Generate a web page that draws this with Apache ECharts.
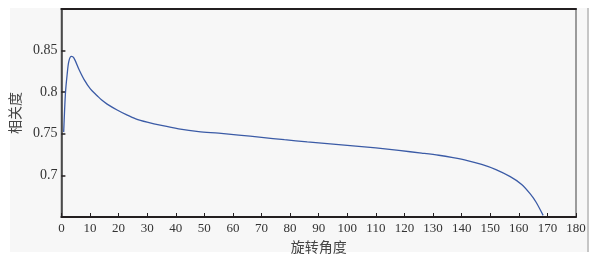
<!DOCTYPE html>
<html>
<head>
<meta charset="utf-8">
<script src="https://cdn.jsdelivr.net/npm/echarts@6/dist/echarts.min.js"></script>
<style>
    html, body {margin: 0; padding: 0; background: #fff;}
    #main {width: 610px; height: 259px;}
</style>
</head>
<body>
<div id="main"></div>
<script>
// 旋转角度 (deg)
const angles = [0.8, 1.4, 2.0, 2.6, 3.5, 4.4, 6.2, 7.9, 10.2, 12.5, 14, 16, 19.5, 22.7, 26, 30, 35, 41, 48,
    55, 62, 70, 78, 86, 94, 102, 110, 118, 126, 132, 137, 142, 147, 152, 157, 161, 164, 166, 168.5];
// 相关度
const corr = [0.752, 0.798, 0.821, 0.837, 0.843, 0.841, 0.827, 0.8155, 0.8036, 0.7958, 0.7908, 0.7857, 0.7786, 0.773, 0.768, 0.764, 0.760, 0.756, 0.7527,
    0.7508, 0.7485, 0.7457, 0.7429, 0.7403, 0.738, 0.7355, 0.733, 0.730, 0.7268, 0.7242, 0.7213, 0.7178, 0.7132, 0.7070, 0.6985, 0.6892, 0.6778, 0.668, 0.652];

const xTicks = {min: 0, max: 180, interval: 10};
const yTicks = {min: 0.65, max: 0.9, interval: 0.05};

const serif = '"Liberation Serif", "DejaVu Serif", serif';
const cjk = '"Noto Sans CJK SC", sans-serif';

let chart = echarts.init(document.getElementById('main'));

chart.setOption({
    backgroundColor: '#fff',
    animation: false,
    graphic: [
        {type: 'rect', z: -10, shape: {x: 10, y: 8, width: 577, height: 244}, style: {fill: '#f7f7f7'}},
        {type: 'line', z: -9, shape: {x1: 588, y1: 8, x2: 588, y2: 252}, style: {stroke: '#c6c6c6', lineWidth: 2}}
    ],
    grid: {
        left: 59, right: 34, top: 9, bottom: 42,
        show: true,
        backgroundColor: 'transparent',
        borderColor: '#7d7d7d',
        borderWidth: 1.5
    },
    xAxis: [{
        type: 'value',
        min: xTicks.min, max: xTicks.max, interval: xTicks.interval,
        name: '旋转角度',
        nameLocation: 'middle',
        nameGap: 19,
        nameTextStyle: {fontFamily: cjk, fontSize: 14, color: '#444'},
        axisLine: {show: true, onZero: false, lineStyle: {color: '#231f20', width: 2}},
        axisTick: {show: true, inside: true, length: 4, lineStyle: {color: '#231f20', width: 1}},
        axisLabel: {margin: 5, fontFamily: serif, fontSize: 13, color: '#333'},
        splitLine: {show: false}
    }, {
        type: 'value',
        position: 'top',
        min: xTicks.min, max: xTicks.max,
        axisLine: {show: true, onZero: false, lineStyle: {color: '#231f20', width: 2}},
        axisTick: {show: false},
        axisLabel: {show: false},
        splitLine: {show: false}
    }],
    yAxis: {
        type: 'value',
        min: yTicks.min, max: yTicks.max, interval: yTicks.interval,
        name: '相关度',
        nameLocation: 'middle',
        nameGap: 34,
        nameRotate: 90,
        nameTextStyle: {fontFamily: cjk, fontSize: 14, color: '#444'},
        axisLine: {show: true, onZero: false, lineStyle: {color: '#3a3a3a', width: 1.5}},
        axisTick: {show: true, inside: true, length: 4, lineStyle: {color: '#231f20', width: 1.5}},
        axisLabel: {
            margin: 4, fontFamily: serif, fontSize: 14, color: '#333',
            showMinLabel: false, showMaxLabel: false,
            formatter: v => String(+v.toFixed(2))
        },
        splitLine: {show: false}
    },
    series: [{
        type: 'line',
        data: angles.map((a, i) => [a, corr[i]]),
        showSymbol: false,
        smooth: 0.3,
        clip: true,
        lineStyle: {color: '#3b5ba6', width: 1.3}
    }]
});
</script>
</body>
</html>
